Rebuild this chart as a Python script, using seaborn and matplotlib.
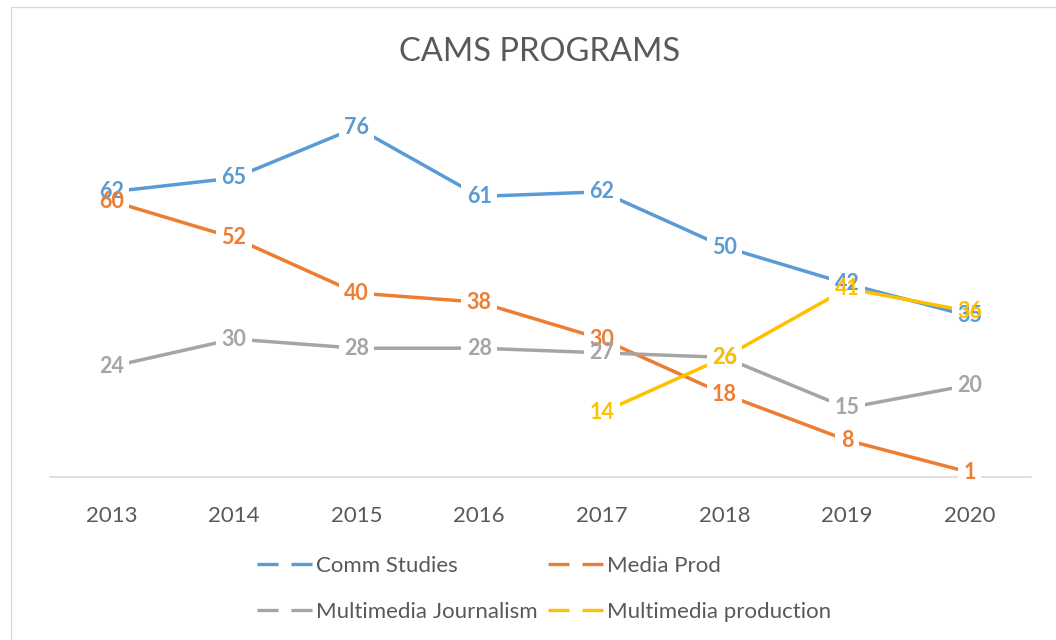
import matplotlib
matplotlib.use("Agg")
import matplotlib.pyplot as plt
from matplotlib.lines import Line2D
from matplotlib.patches import Rectangle
import seaborn as sns
import pandas as pd

years = [2013, 2014, 2015, 2016, 2017, 2018, 2019, 2020]
comm_studies = [62, 65, 76, 61, 62, 50, 42, 35]
media_prod = [60, 52, 40, 38, 30, 18, 8, 1]
mm_journalism = [24, 30, 28, 28, 27, 26, 15, 20]
mm_production = [None, None, None, None, 14, 26, 41, 36]

series_names = ["Comm Studies", "Media Prod", "Multimedia Journalism", "Multimedia production"]
series_values = [comm_studies, media_prod, mm_journalism, mm_production]
colors = ["#5B9BD5", "#ED7D31", "#A5A5A5", "#FFC000"]

rows = []
for name, vals in zip(series_names, series_values):
    for y, v in zip(years, vals):
        if v is not None:
            rows.append({"Year": y, "Value": v, "Series": name})
df = pd.DataFrame(rows)

sns.set_style("white")
plt.rcParams["font.family"] = ["Lato", "DejaVu Sans"]

fig = plt.figure(figsize=(10.56, 6.4), dpi=100)
ax = fig.add_axes([50 / 1056, 1 - 477 / 640, (1031 - 50) / 1056, (477 - 109) / 640])

palette = dict(zip(series_names, colors))
sns.lineplot(data=df, x="Year", y="Value", hue="Series", palette=palette,
             linewidth=2.5, ax=ax, legend=False, sort=False)

# data labels: white backing boxes first, then all texts on top
for k, (name, vals, c) in enumerate(zip(series_names, series_values, colors)):
    for y, v in zip(years, vals):
        if v is None:
            continue
        ax.text(y, v, str(v), ha="center", va="center", fontsize=15.5, fontweight="bold",
                color="white", alpha=0.0, zorder=5,
                bbox=dict(boxstyle="square,pad=0.25", fc="white", ec="none", alpha=1.0))
        ax.text(y, v, str(v), ha="center", va="center", fontsize=15.5, fontweight="bold",
                color=c, zorder=10 + k)

ax.set_xlim(2012.5, 2020.5)
ax.set_ylim(0, 80)
ax.set_xticks(years)
ax.set_xticklabels([str(y) for y in years], fontsize=16, color="#595959")
ax.set_yticks([])
ax.set_xlabel("")
ax.set_ylabel("")
for s in ["top", "right", "left"]:
    ax.spines[s].set_visible(False)
ax.spines["bottom"].set_color("#D9D9D9")
ax.spines["bottom"].set_linewidth(1.2)
ax.tick_params(axis="x", length=0, pad=21)

fig.text(540 / 1056, 1 - 52 / 640, "CAMS PROGRAMS", ha="center", va="center",
         fontsize=23.5, color="#595959")

handles = [Line2D([0], [0], color=c, linewidth=2.4, linestyle=(0, (6.3, 3.9)))
           for c in colors]
order = [0, 2, 1, 3]
fig.legend([handles[i] for i in order], [series_names[i] for i in order],
           loc="center", bbox_to_anchor=(544 / 1056, 1 - 589 / 640),
           ncol=2, frameon=False, fontsize=16, labelcolor="#595959",
           handlelength=2.5, handletextpad=0.18, columnspacing=0.45, labelspacing=1.15)

fig.patches.append(Rectangle((11 / 1056, -0.1), 1.2, 1.1 - 7 / 640, transform=fig.transFigure,
                             fill=False, ec="#D9D9D9", lw=1.0))

fig.savefig("out.png", dpi=100)
